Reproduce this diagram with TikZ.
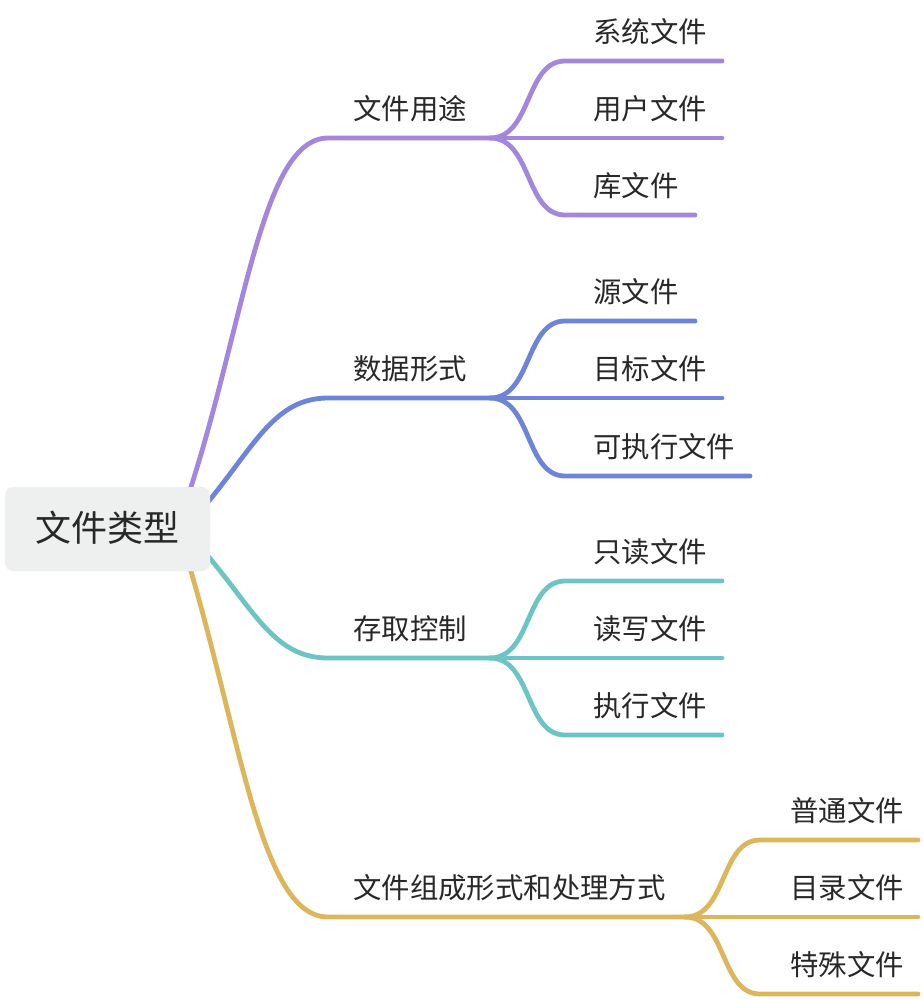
\documentclass[tikz,border=0pt]{standalone}
\usepackage{fontspec}
\setmainfont{Noto Sans CJK SC}
\definecolor{cpurple}{RGB}{163,135,220}
\definecolor{cblue}{RGB}{110,132,216}
\definecolor{cteal}{RGB}{108,196,196}
\definecolor{cgold}{RGB}{221,181,90}
\definecolor{rootfill}{RGB}{238,240,240}
\definecolor{txt}{RGB}{40,40,40}
\begin{document}
\begin{tikzpicture}[x=0.75pt,y=-0.75pt,
  conn/.style={line width=3.6pt,line cap=round},
  lbl/.style={anchor=base west,inner sep=0pt,text=txt,font=\fontsize{21.3pt}{24pt}\selectfont},
  rootbox/.style={fill=rootfill,rounded corners=6pt,inner sep=0pt,minimum width=153.75pt,minimum height=63pt}]
\useasboundingbox (0,0) rectangle (922,1000);
% coordinates
\coordinate (r1) at (190,490);
\coordinate (r2) at (208,502);
\coordinate (r3) at (208,556);
\coordinate (r4) at (190,568);
% branch 1
\coordinate (b1s) at (328,138); \coordinate (b1f) at (490,138);
\coordinate (c11) at (565,61); \coordinate (c11e) at (722,61);
\coordinate (c12e) at (722,138);
\coordinate (c13) at (565,215); \coordinate (c13e) at (695,215);
% branch 2
\coordinate (b2s) at (328,398); \coordinate (b2f) at (490,398);
\coordinate (c21) at (565,321); \coordinate (c21e) at (695,321);
\coordinate (c22e) at (722,398);
\coordinate (c23) at (565,476); \coordinate (c23e) at (750,476);
% branch 3
\coordinate (b3s) at (328,658); \coordinate (b3f) at (490,658);
\coordinate (c31) at (565,581); \coordinate (c31e) at (722,581);
\coordinate (c32e) at (722,658);
\coordinate (c33) at (565,735); \coordinate (c33e) at (722,735);
% branch 4
\coordinate (b4s) at (328,917); \coordinate (b4f) at (685,917);
\coordinate (c41) at (760,840); \coordinate (c41e) at (918,840);
\coordinate (c42e) at (918,917);
\coordinate (c43) at (760,994); \coordinate (c43e) at (918,994);

% connectors
\draw[conn,cpurple] (r1) .. controls (245,320) and (262,138) .. (b1s) -- (b1f);
\draw[conn,cpurple] (b1f) .. controls (532,138) and (525,61) .. (c11) -- (c11e);
\draw[conn,cpurple] (b1f) -- (c12e);
\draw[conn,cpurple] (b1f) .. controls (532,138) and (525,215) .. (c13) -- (c13e);

\draw[conn,cblue] (r2) .. controls (255,445) and (275,398) .. (b2s) -- (b2f);
\draw[conn,cblue] (b2f) .. controls (532,398) and (525,321) .. (c21) -- (c21e);
\draw[conn,cblue] (b2f) -- (c22e);
\draw[conn,cblue] (b2f) .. controls (532,398) and (525,476) .. (c23) -- (c23e);

\draw[conn,cteal] (r3) .. controls (255,612) and (275,658) .. (b3s) -- (b3f);
\draw[conn,cteal] (b3f) .. controls (532,658) and (525,581) .. (c31) -- (c31e);
\draw[conn,cteal] (b3f) -- (c32e);
\draw[conn,cteal] (b3f) .. controls (532,658) and (525,735) .. (c33) -- (c33e);

\draw[conn,cgold] (r4) .. controls (242,745) and (262,917) .. (b4s) -- (b4f);
\draw[conn,cgold] (b4f) .. controls (727,917) and (720,840) .. (c41) -- (c41e);
\draw[conn,cgold] (b4f) -- (c42e);
\draw[conn,cgold] (b4f) .. controls (727,917) and (720,994) .. (c43) -- (c43e);

% root
\node[rootbox] (root) at (107.5,529) {};
\node[anchor=base,inner sep=0pt,text=txt,font=\fontsize{27pt}{30pt}\selectfont] (roottxt) at (107.5,541) {文件类型};

% labels
\node[lbl] (n1) at (353,119) {文件用途};
\node[lbl] (n11) at (593,42) {系统文件};
\node[lbl] (n12) at (593,119) {用户文件};
\node[lbl] (n13) at (593,196) {库文件};

\node[lbl] (n2) at (353,379) {数据形式};
\node[lbl] (n21) at (593,302) {源文件};
\node[lbl] (n22) at (593,379) {目标文件};
\node[lbl] (n23) at (593,457) {可执行文件};

\node[lbl] (n3) at (353,639) {存取控制};
\node[lbl] (n31) at (593,562) {只读文件};
\node[lbl] (n32) at (593,639) {读写文件};
\node[lbl] (n33) at (593,716) {执行文件};

\node[lbl] (n4) at (353,898) {文件组成形式和处理方式};
\node[lbl] (n41) at (790,821) {普通文件};
\node[lbl] (n42) at (790,898) {目录文件};
\node[lbl] (n43) at (790,975) {特殊文件};
\end{tikzpicture}
\end{document}
